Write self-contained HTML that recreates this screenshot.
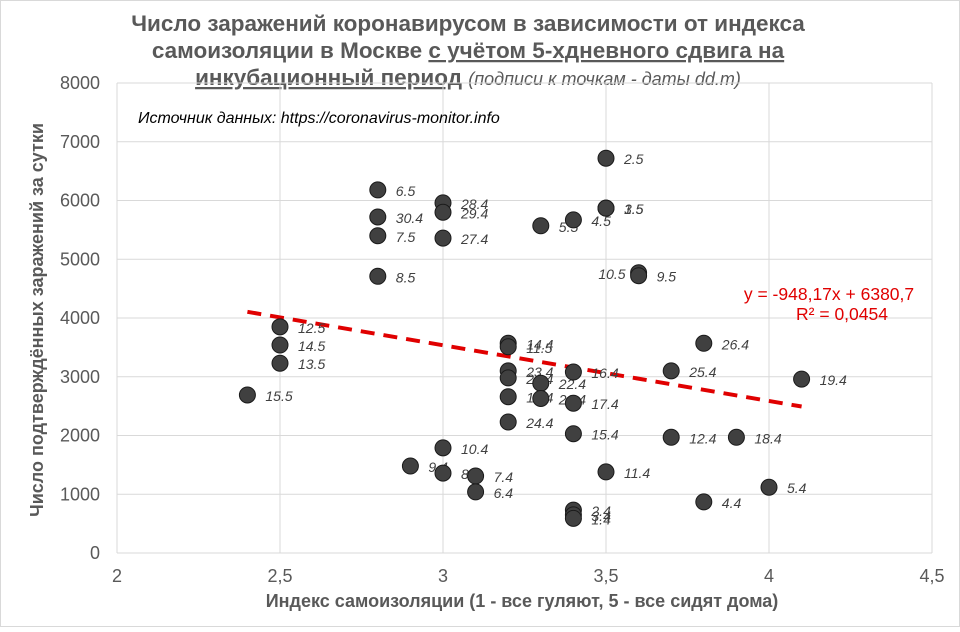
<!DOCTYPE html>
<html><head><meta charset="utf-8"><style>
body{margin:0;background:#fff;font-family:"Liberation Sans",sans-serif}
svg text{font-family:"Liberation Sans",sans-serif}
</style></head><body>
<svg id="c" width="960" height="627" viewBox="0 0 960 627">
<rect x="0.5" y="0.5" width="959" height="626" fill="#fff" stroke="#d9d9d9"/>
<g font-weight="bold" font-size="22.5" fill="#595959" text-anchor="middle">
<text x="468" y="31">Число заражений коронавирусом в зависимости от индекса</text>
<text x="468" y="58">самоизоляции в Москве <tspan text-decoration="underline">с учётом 5-хдневного сдвига на</tspan></text>
<text x="468" y="85"><tspan text-decoration="underline">инкубационный период</tspan> <tspan font-weight="normal" font-style="italic" font-size="18">(подписи к точкам - даты dd.m)</tspan></text>
</g>
<g id="grid"></g><g id="axes"></g><g id="trend"></g><g id="pts"></g>
<text x="138" y="123" font-size="16" font-style="italic" fill="#000">Источник данных: https://coronavirus-monitor.info</text>
<text x="829" y="300" font-size="17.5" fill="#e00000" text-anchor="middle">y = -948,17x + 6380,7</text>
<text x="842" y="320" font-size="17.5" fill="#e00000" text-anchor="middle">R² = 0,0454</text>
<text x="522" y="607" font-size="18" font-weight="bold" fill="#595959" text-anchor="middle">Индекс самоизоляции (1 - все гуляют, 5 - все сидят дома)</text>
<text transform="translate(43,320) rotate(-90)" font-size="18" font-weight="bold" fill="#595959" text-anchor="middle">Число подтверждённых заражений за сутки</text>
</svg>
<script>
const xVals=[3.5,2.8,3.0,3.0,2.8,2.8,3.0,3.3,3.4,3.5,3.5,2.8,3.6,3.6,2.5,2.5,2.5,2.4,3.2,3.2,3.2,3.2,3.3,3.4,3.7,3.8,4.1,3.2,3.3,3.4,3.2,3.4,3.7,3.9,3.0,2.9,3.0,3.1,3.1,3.5,4.0,3.8,3.4,3.4,3.4];
const yVals=[6720,6180,5960,5800,5720,5400,5360,5570,5670,5870,5870,4710,4770,4720,3850,3540,3230,2690,3570,3510,3100,2980,2890,3080,3100,3570,2960,2660,2630,2550,2230,2030,1970,1970,1790,1480,1360,1310,1040,1380,1120,870,730,650,590];
const labels=["2.5","6.5","28.4","29.4","30.4","7.5","27.4","5.5","4.5","3.5","1.5","8.5","10.5","9.5","12.5","14.5","13.5","15.5","14.4","11.5","23.4","21.4","22.4","16.4","25.4","26.4","19.4","13.4","20.4","17.4","24.4","15.4","12.4","18.4","10.4","9.4","8.4","7.4","6.4","11.4","5.4","4.4","2.4","3.4","1.4"];
const leftLabels=["10.5"];
const xTicks=[2,2.5,3,3.5,4,4.5];
const xTickLabels=["2","2,5","3","3,5","4","4,5"];
const yTicks=[0,1000,2000,3000,4000,5000,6000,7000,8000];
const trendSlope=-948.17, trendIntercept=6380.7, trendRange=[2.4,4.1];
const X=v=>117+(v-2)*326, Y=v=>553-v*0.05875;
const NS="http://www.w3.org/2000/svg";
function mk(p,t,a){const e=document.createElementNS(NS,t);for(const k in a)e.setAttribute(k,a[k]);document.getElementById(p).appendChild(e);return e;}
xTicks.forEach((t,i)=>{
 const l=mk('grid','line',{x1:X(t),x2:X(t),y1:83,y2:553,stroke:'#d9d9d9'});
 
 
 const tx=mk('axes','text',{x:X(t),y:582,'font-size':18,fill:'#595959','text-anchor':'middle'});tx.textContent=xTickLabels[i];
 
 
});
yTicks.forEach(t=>{
 const l=mk('grid','line',{x1:117,x2:932,y1:Y(t),y2:Y(t),stroke:'#d9d9d9'});
 
 
 const tx=mk('axes','text',{x:100,y:Y(t)+6,'font-size':18,fill:'#595959','text-anchor':'end'});tx.textContent=t;
 
 
});
const tl=mk('trend','line',{x1:X(trendRange[0]),y1:Y(trendSlope*trendRange[0]+trendIntercept),x2:X(trendRange[1]),y2:Y(trendSlope*trendRange[1]+trendIntercept),stroke:'#e00000','stroke-width':4,'stroke-dasharray':'14 9'});


xVals.forEach((x,i)=>{
 const c=mk('pts','circle',{cx:X(x),cy:Y(yVals[i]),r:8,fill:'#404040',stroke:'#1a1a1a','stroke-width':1});
 
 
 const left=leftLabels.includes(labels[i]);
 const tx=mk('pts','text',{x:left?X(x)-13:X(x)+18,y:Y(yVals[i])+6,'font-size':14,'font-style':'italic',fill:'#404040','text-anchor':left?'end':'start'});tx.textContent=labels[i];
 
 
});
</script>
</body></html>
